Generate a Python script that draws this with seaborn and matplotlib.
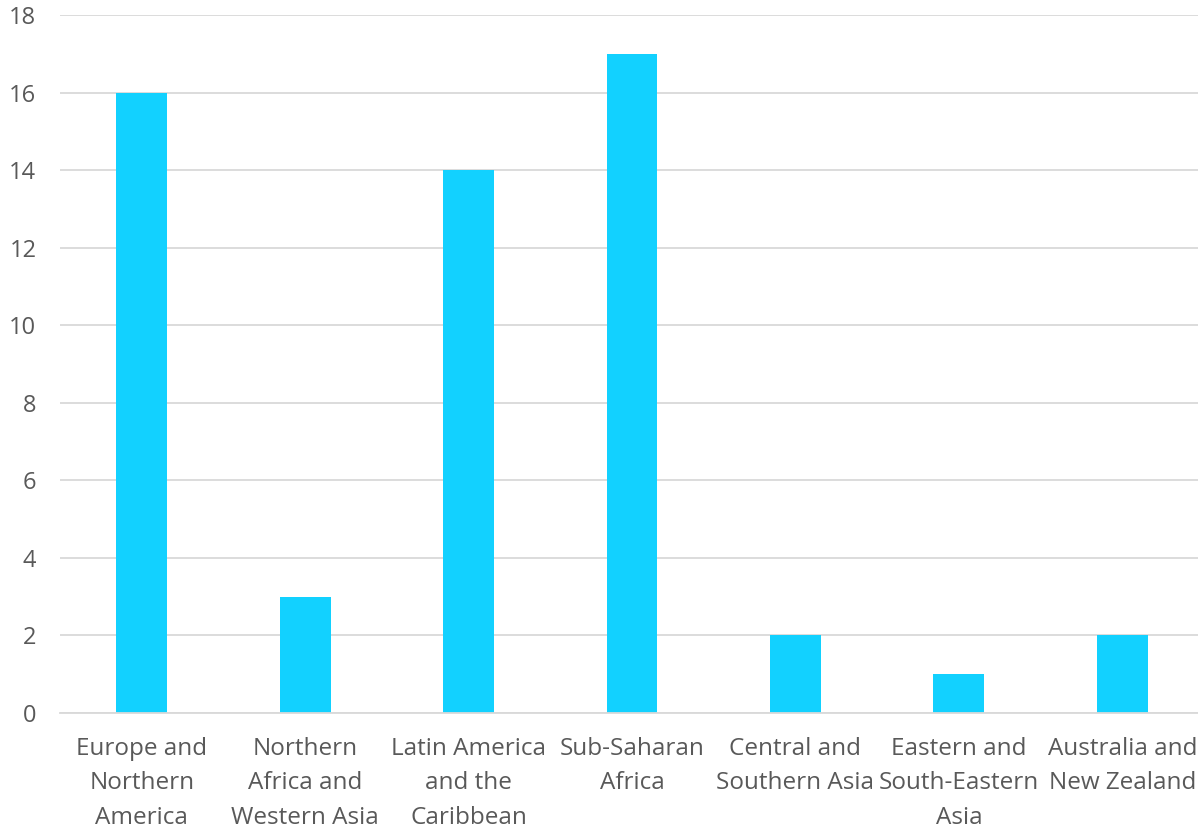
import matplotlib
matplotlib.use("Agg")
import matplotlib.pyplot as plt
import seaborn as sns
import pandas as pd

categories = ["Europe and\nNorthern\nAmerica", "Northern\nAfrica and\nWestern Asia",
              "Latin America\nand the\nCaribbean", "Sub-Saharan\nAfrica",
              "Central and\nSouthern Asia", "Eastern and\nSouth-Eastern\nAsia",
              "Australia and\nNew Zealand"]
values = [16, 3, 14, 17, 2, 1, 2]
yticks = [0, 2, 4, 6, 8, 10, 12, 14, 16, 18]

sns.set_style("white")
plt.rcParams['font.family'] = ['Open Sans', 'DejaVu Sans']

fig = plt.figure(figsize=(11.98, 8.32), dpi=100)
ax = fig.add_axes([60/1198, 1-713/832, 1144/1198, (713-15)/832])

df = pd.DataFrame({"cat": categories, "val": values})
sns.barplot(data=df, x="cat", y="val", color="#12D1FF", saturation=1, width=0.312,
            linewidth=0, ax=ax)

ax.set_ylim(0, 18)
ax.set_xlim(-0.5, len(categories) - 0.5)
ax.set_yticks(yticks)
ax.set_yticklabels([str(t) for t in yticks])
ax.yaxis.grid(True, color="#D9D9D9", linewidth=1.3)
ax.set_axisbelow(True)
for s in ["top", "right", "left"]:
    ax.spines[s].set_visible(False)
ax.spines["bottom"].set_color("#D9D9D9")
ax.spines["bottom"].set_linewidth(1.3)
ax.set_xlabel("")
ax.set_ylabel("")
ax.tick_params(axis="y", length=0, pad=17, labelsize=17, labelcolor="#595959")
ax.tick_params(axis="x", length=0, pad=17, labelsize=17.5, labelcolor="#595959")
for lbl in ax.get_xticklabels():
    lbl.set_linespacing(1.6)
    lbl.set_verticalalignment("top")

fig.savefig("out.png", dpi=100)
